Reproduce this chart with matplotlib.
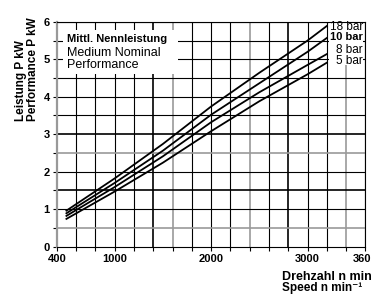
import matplotlib
matplotlib.use("Agg")
import matplotlib.pyplot as plt
import numpy as np

plt.rcParams['font.family'] = ['Liberation Sans', 'DejaVu Sans']

# Read-off values (speed in min^-1, performance in kW)
speed = [500, 1000, 1500, 2000, 2500, 3000, 3200]
perf_18 = [0.96, 1.82, 2.74, 3.74, 4.64, 5.50, 5.89]
perf_10 = [0.89, 1.70, 2.56, 3.52, 4.36, 5.20, 5.57]
perf_8 = [0.82, 1.59, 2.41, 3.32, 4.12, 4.85, 5.14]
perf_5 = [0.74, 1.47, 2.24, 3.08, 3.88, 4.60, 4.91]

series_names = ["18 bar", "10 bar", "8 bar", "5 bar"]
series_data = [perf_18, perf_10, perf_8, perf_5]

xtick_labels = [400, 1000, 2000, 3000, 3600]
ytick_labels = [0, 1, 2, 3, 4, 5, 6]

fig = plt.figure(figsize=(3.71, 2.95), dpi=100)
ax = fig.add_axes([0.153, 0.164, 0.832, 0.762])
ax.set_xlim(400, 3600)
ax.set_ylim(0, 6)

dark_v = [1400, 2800]
gray_v = [1600, 2400, 3400]
for xv in np.arange(600, 3601, 200):
    if xv in gray_v:
        ax.axvline(xv, color='#9a9a9a', lw=1.2, zorder=1)
    elif xv in dark_v:
        ax.axvline(xv, color='black', lw=1.2, zorder=1)
    else:
        ax.axvline(xv, color='black', lw=0.8, zorder=1)
dark_h = [1.5, 3.0]
gray_h = [0.5, 2.5]
for yv in np.arange(0.5, 6.01, 0.5):
    if yv in gray_h:
        ax.axhline(yv, color='#9a9a9a', lw=1.2, zorder=1)
    elif yv in dark_h:
        ax.axhline(yv, color='black', lw=1.2, zorder=1)
    else:
        ax.axhline(yv, color='black', lw=0.8, zorder=1)

for vals in series_data:
    ax.plot(speed, vals, color='black', lw=1.3, zorder=3)

# white areas behind texts
ax.add_patch(plt.Rectangle((465, 4.62), 1195, 1.16, facecolor='white', edgecolor='none', zorder=2))
ax.add_patch(plt.Rectangle((3225, 4.84), 345, 1.16, facecolor='white', edgecolor='none', zorder=2))

label_pos = [(3232, 5.87, 'normal'), (3232, 5.60, 'bold'), (3290, 5.26, 'normal'), (3290, 4.95, 'normal')]
for name, (x, y, w) in zip(series_names, label_pos):
    ax.text(x, y, name, fontsize=8.5 if w == 'normal' else 8, fontweight=w,
            ha='left', va='center', zorder=4)

ax.text(504, 5.53, "Mittl. Nennleistung", fontsize=8, fontweight='bold', ha='left', va='center', zorder=4)
ax.text(510, 5.18, "Medium Nominal", fontsize=9, ha='left', va='center', zorder=4)
ax.text(510, 4.85, "Performance", fontsize=9, ha='left', va='center', zorder=4)

xt = np.arange(400, 3601, 200)
ax.set_xticks(xt)
ax.set_xticklabels([str(v) if v in xtick_labels else "" for v in xt], fontsize=8, fontweight='bold')
yt = np.arange(0, 6.01, 0.5)
ax.set_yticks(yt)
ax.set_yticklabels([str(int(v)) if float(v).is_integer() and int(v) in ytick_labels else "" for v in yt],
                   fontsize=8, fontweight='bold')
ax.tick_params(axis='both', length=3, width=0.8, pad=2)

for s in ['top', 'right', 'bottom']:
    ax.spines[s].set_linewidth(0.8)
ax.spines['left'].set_color('#999999')
ax.spines['left'].set_linewidth(1.6)

fig.text(0.0575, 0.59, "Leistung P kW", rotation=90, fontsize=8.5, fontweight='bold', ha='center', va='bottom')
fig.text(0.0898, 0.59, "Performance P kW", rotation=90, fontsize=8.5, fontweight='bold', ha='center', va='bottom')

fig.text(0.76, 0.051, "Drehzahl n min\u207b\u00b9", fontsize=9, fontweight='bold', ha='left', va='baseline')
fig.text(0.76, 0.0135, "Speed n min\u207b\u00b9", fontsize=8.5, fontweight='bold', ha='left', va='baseline')

fig.savefig("out.png", dpi=100)
